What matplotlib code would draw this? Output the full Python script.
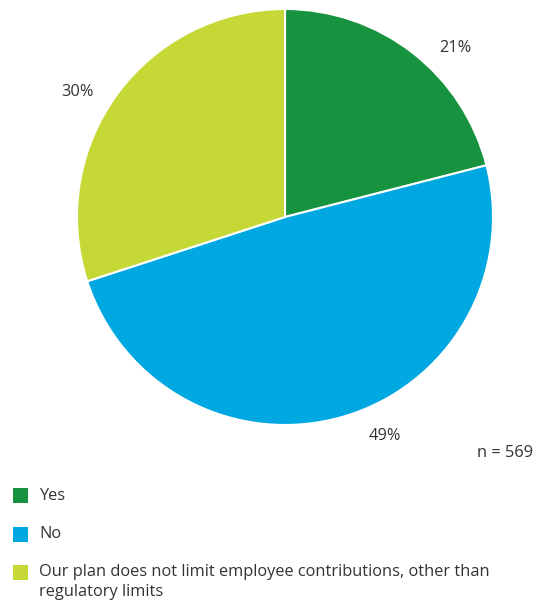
import matplotlib
matplotlib.use("Agg")
import matplotlib.pyplot as plt
from matplotlib.patches import Rectangle
import numpy as np

plt.rcParams['font.family'] = ['Open Sans', 'DejaVu Sans']

categories = ["Yes", "No", "Our plan does not limit employee contributions, other than\nregulatory limits"]
shares = [21, 49, 30]
colors = ["#17933f", "#00a8e1", "#c5d836"]
n_resp = 569

# label placement: (radius, angle offset in degrees from wedge middle)
label_pos = [(1.152, -7.4), (1.158, 8.4), (1.162, 4.9)]

W, H = 550, 606
fig = plt.figure(figsize=(W / 100, H / 100), dpi=100)
cx, cy, r = 285, 217, 208
ax = fig.add_axes([(cx - r) / W, (H - cy - r) / H, 2 * r / W, 2 * r / H])

wedges, _ = ax.pie(shares, colors=colors, startangle=90, counterclock=False,
                   wedgeprops=dict(edgecolor="white", linewidth=1.5))
ax.set_xlim(-1, 1)
ax.set_ylim(-1, 1)
ax.set_aspect("equal")
ax.axis("off")

txt = "#333333"
fs = 11.8
for w, v, (rr, off) in zip(wedges, shares, label_pos):
    mid = np.deg2rad((w.theta1 + w.theta2) / 2 + off)
    ax.text(rr * np.cos(mid), rr * np.sin(mid), f"{v}%", ha="center", va="center",
            fontsize=fs, color=txt)

fig.text(505 / W, 1 - 453 / H, f"n = {n_resp}", ha="center", va="center",
         fontsize=fs, color=txt)

# legend
y0 = 495.5
for i, (lab, c) in enumerate(zip(categories, colors)):
    y = y0 + i * 38.5
    fig.patches.append(Rectangle((13 / W, 1 - (y + 7.5) / H), 15 / W, 15 / H,
                                 transform=fig.transFigure, facecolor=c, edgecolor="none"))
    fig.text(39 / W, 1 - (y - 8) / H, lab, ha="left", va="top", fontsize=fs,
             color=txt, linespacing=1.3)

fig.savefig("out.png", dpi=100)
